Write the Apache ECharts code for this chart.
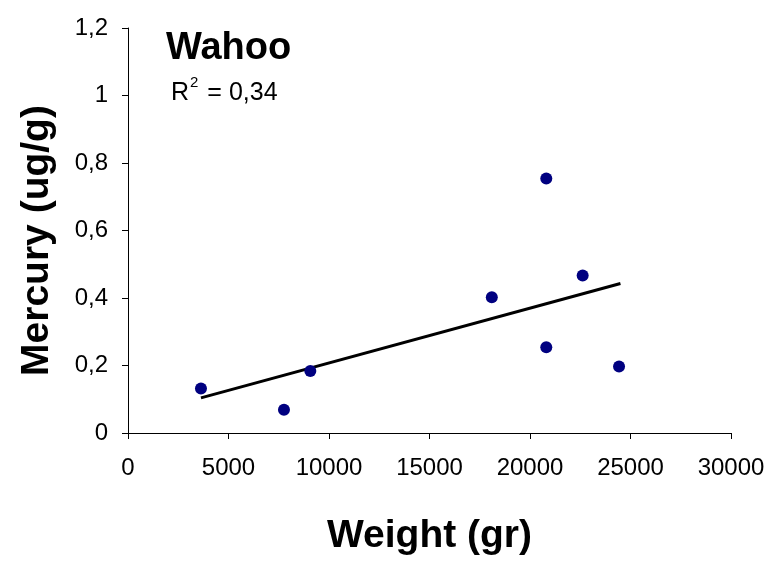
<!DOCTYPE html>
<html>
<head>
<meta charset="utf-8">
<script src="https://cdn.jsdelivr.net/npm/echarts@6/dist/echarts.min.js"></script>
<style>
  html, body { margin: 0; padding: 0; background: #fff; }
  #chart { width: 782px; height: 565px; }
</style>
</head>
<body>
<div id="chart"></div>
<script>
// weight (gr) and mercury (ug/g)
const weight = [3630, 7760, 9070, 18100, 20810, 20810, 22620, 24430]
const mercury = [0.132, 0.069, 0.184, 0.402, 0.754, 0.254, 0.467, 0.197]
// trend line end points
const trendX = [3630, 24500]
const trendY = [0.104, 0.443]

const FONT = 'Liberation Sans, Arial, sans-serif'
const comma = v => String(+v.toFixed(2)).replace('.', ',')

const chart = echarts.init(document.getElementById('chart'))

const options = {
  animation: false,
  textStyle: { fontFamily: FONT },
  title: [
    {
      text: 'Wahoo',
      left: 161, top: 25,
      textStyle: { fontSize: 38, fontWeight: 'bold', color: '#000', fontFamily: FONT }
    },
    {
      text: '{r|R}{s|2}{r| = 0,34}',
      left: 166, top: 70,
      textStyle: {
        fontWeight: 'normal',
        rich: {
          r: { fontSize: 25, color: '#000', fontFamily: FONT, fontWeight: 'normal', verticalAlign: 'bottom' },
          s: { fontSize: 15, color: '#000', fontFamily: FONT, fontWeight: 'normal', verticalAlign: 'top', padding: [0, 2, 16, 1] }
        }
      }
    }
  ],
  grid: { left: 128, right: 51, top: 28, bottom: 132 },
  xAxis: {
    type: 'value',
    min: 0, max: 30000, interval: 5000,
    name: 'Weight (gr)',
    nameLocation: 'middle',
    nameGap: 84,
    nameTextStyle: { fontSize: 39, fontWeight: 'bold', color: '#000', fontFamily: FONT },
    axisLine: { show: true, lineStyle: { color: '#000', width: 1 } },
    axisTick: { show: true, length: 6, lineStyle: { color: '#000' } },
    axisLabel: { fontSize: 24, color: '#000', margin: 23, formatter: v => String(v) },
    splitLine: { show: false }
  },
  yAxis: {
    type: 'value',
    min: 0, max: 1.2, interval: 0.2,
    name: 'Mercury (ug/g)',
    nameLocation: 'middle',
    nameGap: 71,
    nameTextStyle: { fontSize: 39, fontWeight: 'bold', color: '#000', fontFamily: FONT, padding: [0, 20, 0, 0] },
    axisLine: { show: true, lineStyle: { color: '#000', width: 1 } },
    axisTick: { show: true, length: 6, lineStyle: { color: '#000' } },
    axisLabel: { fontSize: 24, color: '#000', margin: 20, formatter: comma },
    splitLine: { show: false }
  },
  series: [
    {
      type: 'line',
      data: trendX.map((x, i) => [x, trendY[i]]),
      showSymbol: false,
      lineStyle: { color: '#000', width: 3 },
      z: 2
    },
    {
      type: 'scatter',
      data: weight.map((w, i) => [w, mercury[i]]),
      symbolSize: 12,
      itemStyle: { color: '#000080', opacity: 1 },
      z: 3
    }
  ]
}

chart.setOption(options)
</script>
</body>
</html>
